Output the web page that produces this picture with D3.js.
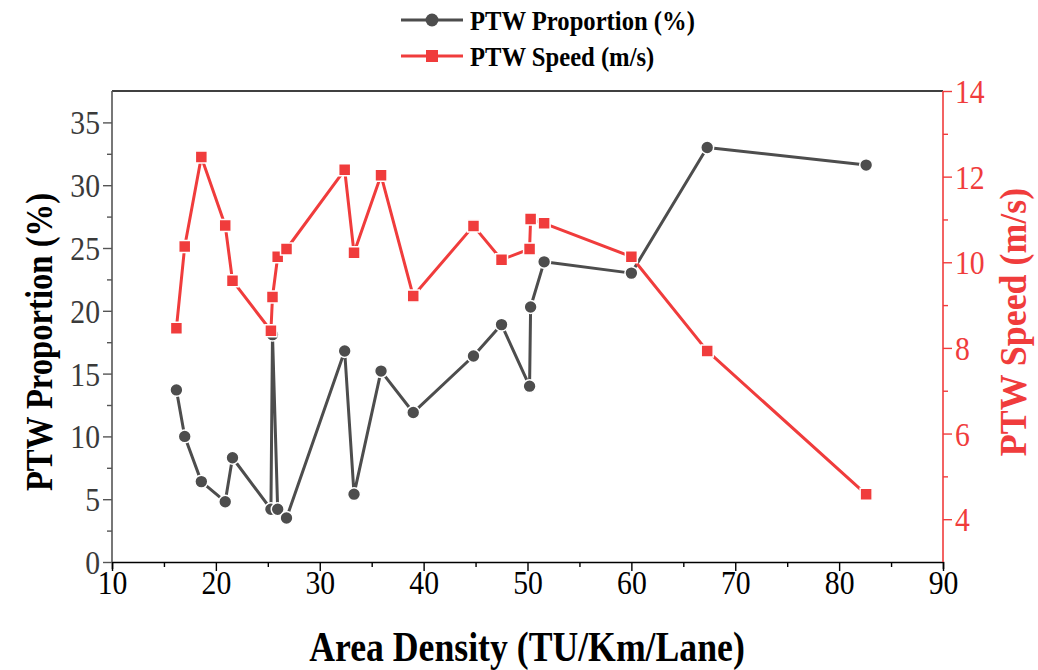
<!DOCTYPE html>
<html>
<head>
<meta charset="utf-8">
<script src="https://cdn.jsdelivr.net/npm/d3@7/dist/d3.min.js"></script>
<style>
  html, body { margin: 0; padding: 0; background: #fff; }
  svg { display: block; }
  text { font-family: "Liberation Serif", "Times New Roman", serif; }
</style>
</head>
<body>
<svg id="chart" width="1038" height="670"></svg>
<script>
// Area density of each observation (TU/Km/Lane)
const density = [16.2, 17.0, 18.6, 20.9, 21.6, 25.3, 25.45, 25.95, 26.8, 32.4, 33.3,
                 35.9, 39.0, 44.8, 47.5, 50.2, 50.3, 51.6, 60.0, 67.3, 82.6];
// PTW share of traffic (%)
const proportion = [13.7, 10.0, 6.4, 4.8, 8.3, 4.2, 18.1, 4.2, 3.5, 16.8, 5.4,
                     15.2, 11.9, 16.4, 18.9, 14.0, 20.3, 23.9, 23.0, 33.0, 31.6];
// PTW mean speed (m/s)
const speed = [8.46, 10.37, 12.46, 10.86, 9.57, 8.40, 9.19, 10.13, 10.31, 12.16, 10.22,
               12.03, 9.21, 10.85, 10.06, 10.31, 11.01, 10.91, 10.13, 7.93, 4.58];

const xTicks = [10, 20, 30, 40, 50, 60, 70, 80, 90];
const leftTicks = [0, 5, 10, 15, 20, 25, 30, 35];
const rightTicks = [4, 6, 8, 10, 12, 14];
const seriesNames = ["PTW Proportion (%)", "PTW Speed (m/s)"];

const GRAY = "#4d4d4d";
const RED = "#f03c3c";
const SERIF = '"Liberation Serif", "Times New Roman", serif';

const svg = d3.select("#chart");
const L = 112, R = 943, T = 91, B = 562;

const x = d3.scaleLinear().domain([10, 90]).range([L, R]);
const yL = d3.scaleLinear().domain([0, 37.5]).range([B, T]);
const yR = d3.scaleLinear().domain([3, 14]).range([B, T]);

// Times-like glyphs are drawn slightly condensed
const TICK_FONT = 33, TICK_SX = 0.9;

// ---- axes ----
// bottom
const xAxis = svg.append("g").attr("transform", `translate(0,${B})`)
  .call(d3.axisBottom(x).tickValues(d3.range(10, 91, 5)).tickSize(7)
        .tickFormat(d => xTicks.includes(d) ? d : ""));
xAxis.select(".domain").attr("stroke", "#000").attr("stroke-width", 1.6);
xAxis.selectAll(".tick line").attr("stroke", "#000").attr("stroke-width", 1.4)
  .attr("y2", d => xTicks.includes(d) ? 9 : 5);
xAxis.selectAll(".tick text").attr("fill", "#000").attr("dy", null).attr("y", 32);

// top frame
svg.append("line").attr("x1", L).attr("x2", R).attr("y1", T).attr("y2", T)
  .attr("stroke", "#000").attr("stroke-width", 1.6);

// left
const yAxisL = svg.append("g").attr("transform", `translate(${L},0)`)
  .call(d3.axisLeft(yL).tickValues(d3.range(0, 37.5, 2.5)).tickSize(8)
        .tickFormat(d => leftTicks.includes(d) ? d : ""));
yAxisL.select(".domain").attr("stroke", "#555").attr("stroke-width", 1.6).attr("d", `M0,${B}V${T}`);
yAxisL.selectAll(".tick line").attr("stroke", "#555").attr("stroke-width", 1.4)
  .attr("x2", d => leftTicks.includes(d) ? -9 : -5);
yAxisL.selectAll(".tick text").attr("fill", "#3a3a3a").attr("x", -12 / TICK_SX).attr("dy", "0.35em");

// right
const yAxisR = svg.append("g").attr("transform", `translate(${R},0)`)
  .call(d3.axisRight(yR).tickValues(d3.range(3, 14.5, 1)).tickSize(8)
        .tickFormat(d => rightTicks.includes(d) ? d : ""));
yAxisR.select(".domain").attr("stroke", RED).attr("stroke-width", 1.6).attr("d", `M0,${B}V${T}`);
yAxisR.selectAll(".tick line").attr("stroke", RED).attr("stroke-width", 1.4)
  .attr("x2", d => d === 3 ? 0 : (rightTicks.includes(d) ? 9 : 5));
yAxisR.selectAll(".tick text").attr("fill", RED).attr("x", 12 / TICK_SX).attr("dy", "0.35em");

svg.selectAll(".tick text")
  .style("font-family", SERIF).style("font-size", TICK_FONT + "px")
  .attr("transform", `scale(${TICK_SX},1)`);

// ---- axis titles ----
function title(tx, ty, rot, size, sx, color, label) {
  svg.append("text")
    .attr("transform", `translate(${tx},${ty}) rotate(${rot}) scale(${sx},1)`)
    .attr("text-anchor", "middle")
    .style("font-family", SERIF).style("font-size", size + "px").style("font-weight", "bold")
    .attr("fill", color).text(label);
}
title(527, 661, 0, 42, 0.85, "#000", "Area Density (TU/Km/Lane)");
title(52, 342, -90, 38, 0.86, "#000", "PTW Proportion (%)");
title(1026, 322, -90, 37, 0.97, RED, "PTW Speed (m/s)");

// ---- series ----
const rows = density.map((d, i) => ({ d, p: proportion[i], s: speed[i] }));

function drawSeries(g, yScale, key, color, shape) {
  g.append("path").datum(rows)
    .attr("fill", "none").attr("stroke", color).attr("stroke-width", 3)
    .attr("stroke-linejoin", "round")
    .attr("d", d3.line().x(r => x(r.d)).y(r => yScale(r[key])));
  const sym = d3.symbol().type(shape).size(shape === d3.symbolCircle ? 130 : 144);
  g.selectAll("path.mk").data(rows).join("path").attr("class", "mk")
    .attr("transform", r => `translate(${x(r.d)},${yScale(r[key])})`)
    .attr("d", sym).attr("fill", color)
    .attr("stroke", "#fff").attr("stroke-width", 1.5);
}
drawSeries(svg.append("g"), yL, "p", GRAY, d3.symbolCircle);
drawSeries(svg.append("g"), yR, "s", RED, d3.symbolSquare);

// ---- legend ----
const legend = svg.append("g");
[[GRAY, d3.symbolCircle, 20], [RED, d3.symbolSquare, 56]].forEach(([c, shape, ly], i) => {
  legend.append("line").attr("x1", 401).attr("x2", 463).attr("y1", ly).attr("y2", ly)
    .attr("stroke", c).attr("stroke-width", 3);
  legend.append("path").attr("transform", `translate(432,${ly})`)
    .attr("d", d3.symbol().type(shape).size(shape === d3.symbolCircle ? 130 : 144)).attr("fill", c);
  legend.append("text").attr("transform", `translate(470,${ly + 10}) scale(0.88,1)`)
    .style("font-family", SERIF).style("font-size", "28px").style("font-weight", "bold")
    .attr("fill", "#000").text(seriesNames[i]);
});
</script>
</body>
</html>
